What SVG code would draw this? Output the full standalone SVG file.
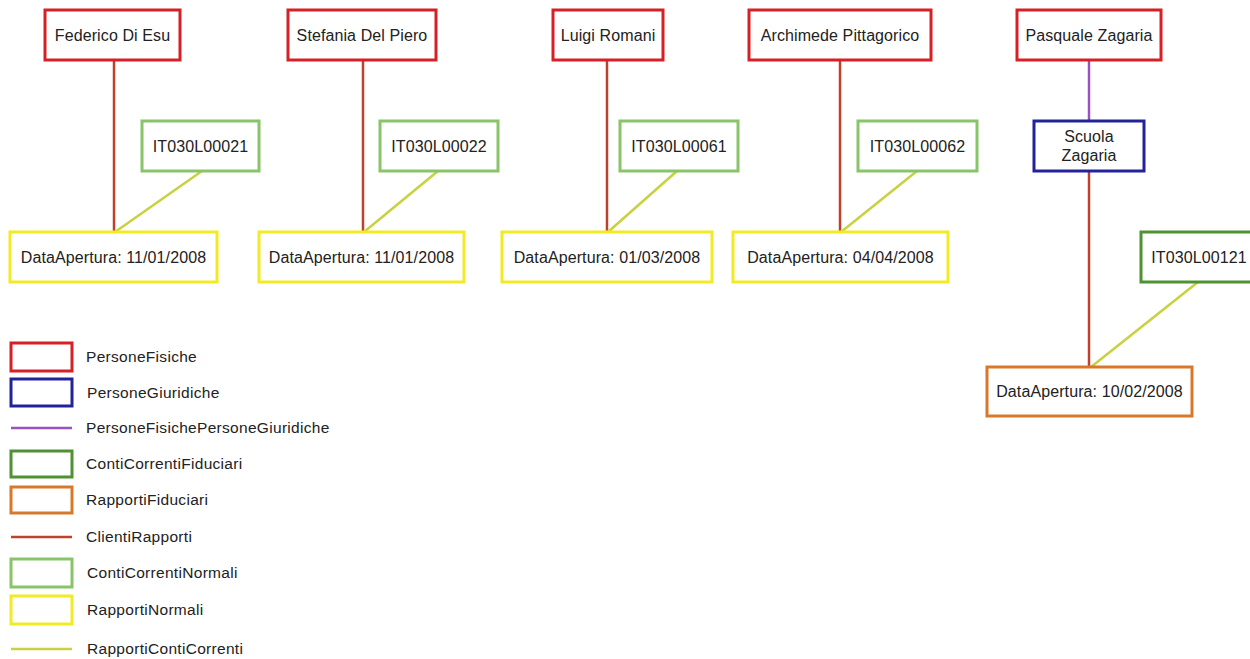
<svg xmlns="http://www.w3.org/2000/svg" width="1250" height="659" viewBox="0 0 1250 659">
<style>
text{font-family:"Liberation Sans",Arial,sans-serif;font-size:16px;letter-spacing:0.1px;fill:#222;}
.c{text-anchor:middle;}
.box{fill:#fff;stroke-width:3;}
.pf{stroke:#d42026;}
.pg{stroke:#22229a;}
.ccf{stroke:#4e9234;}
.rf{stroke:#d8782a;}
.ccn{stroke:#88c468;}
.rn{stroke:#f2ea22;}
.l{fill:none;stroke-width:2.5;}
.pfpg{stroke:#9a52c0;}
.cr{stroke:#c0402e;}
.rcc{stroke:#c8d240;}
.lt{font-size:15.5px;letter-spacing:0.3px;}
</style>
<rect width="1250" height="659" fill="#fff"/>
<g id="connectors">
<line class="l cr" x1="114" y1="60" x2="114" y2="232"/>
<line class="l rcc" x1="202" y1="171" x2="115" y2="232"/>
<line class="l cr" x1="363" y1="60" x2="363" y2="232"/>
<line class="l rcc" x1="438" y1="171" x2="364" y2="232"/>
<line class="l cr" x1="607" y1="60" x2="607" y2="232"/>
<line class="l rcc" x1="677" y1="171" x2="608" y2="232"/>
<line class="l cr" x1="840" y1="60" x2="840" y2="232"/>
<line class="l rcc" x1="917" y1="171" x2="841" y2="232"/>
<line class="l pfpg" x1="1089" y1="60" x2="1089" y2="121"/>
<line class="l cr" x1="1089" y1="171" x2="1089" y2="367"/>
<line class="l rcc" x1="1198" y1="282" x2="1091" y2="367"/>
</g>
<g id="n-federico"><rect class="box pf" x="45" y="10" width="135" height="50"/><text class="c" x="112.5" y="41">Federico Di Esu</text></g>
<g id="n-stefania"><rect class="box pf" x="288" y="10" width="148" height="50"/><text class="c" x="362" y="41">Stefania Del Piero</text></g>
<g id="n-luigi"><rect class="box pf" x="553" y="10" width="110" height="50"/><text class="c" x="608" y="41">Luigi Romani</text></g>
<g id="n-archimede"><rect class="box pf" x="749" y="10" width="182" height="50"/><text class="c" x="840" y="41">Archimede Pittagorico</text></g>
<g id="n-pasquale"><rect class="box pf" x="1017" y="10" width="144" height="50"/><text class="c" x="1089" y="41">Pasquale Zagaria</text></g>
<g id="n-it21"><rect class="box ccn" x="142" y="121" width="117" height="50"/><text class="c" x="200.5" y="152">IT030L00021</text></g>
<g id="n-it22"><rect class="box ccn" x="380" y="121" width="118" height="50"/><text class="c" x="439" y="152">IT030L00022</text></g>
<g id="n-it61"><rect class="box ccn" x="620" y="121" width="118" height="50"/><text class="c" x="679" y="152">IT030L00061</text></g>
<g id="n-it62"><rect class="box ccn" x="858" y="121" width="119" height="50"/><text class="c" x="917.5" y="152">IT030L00062</text></g>
<g id="n-scuola"><rect class="box pg" x="1034" y="121" width="110" height="50"/><text class="c" x="1089" y="142">Scuola</text><text class="c" x="1089" y="161">Zagaria</text></g>
<g id="n-it121"><rect class="box ccf" x="1141" y="232" width="116" height="50"/><text class="c" x="1199" y="263">IT030L00121</text></g>
<g id="n-d1"><rect class="box rn" x="10" y="232" width="207" height="50"/><text class="c" x="113.5" y="263">DataApertura: 11/01/2008</text></g>
<g id="n-d2"><rect class="box rn" x="259" y="232" width="205" height="50"/><text class="c" x="361.5" y="263">DataApertura: 11/01/2008</text></g>
<g id="n-d3"><rect class="box rn" x="502" y="232" width="210" height="50"/><text class="c" x="607" y="263">DataApertura: 01/03/2008</text></g>
<g id="n-d4"><rect class="box rn" x="733" y="232" width="215" height="50"/><text class="c" x="840.5" y="263">DataApertura: 04/04/2008</text></g>
<g id="n-d5"><rect class="box rf" x="987" y="367" width="205" height="49"/><text class="c" x="1089.5" y="397">DataApertura: 10/02/2008</text></g>
<g id="legend">
<rect class="box pf" x="11" y="343" width="61" height="28"/><text class="lt" x="86" y="362">PersoneFisiche</text>
<rect class="box pg" x="11" y="379" width="61" height="27"/><text class="lt" x="87" y="398">PersoneGiuridiche</text>
<line class="l pfpg" x1="11" y1="428" x2="72" y2="428"/><text class="lt" x="86" y="433">PersoneFisichePersoneGiuridiche</text>
<rect class="box ccf" x="11" y="451" width="61" height="26"/><text class="lt" x="86" y="469">ContiCorrentiFiduciari</text>
<rect class="box rf" x="11" y="487" width="61" height="26"/><text class="lt" x="86" y="505">RapportiFiduciari</text>
<line class="l cr" x1="11" y1="537" x2="72" y2="537"/><text class="lt" x="86" y="542">ClientiRapporti</text>
<rect class="box ccn" x="11" y="559" width="61" height="28"/><text class="lt" x="87" y="578">ContiCorrentiNormali</text>
<rect class="box rn" x="11" y="596" width="61" height="28"/><text class="lt" x="87" y="615">RapportiNormali</text>
<line class="l rcc" x1="11" y1="649" x2="72" y2="649"/><text class="lt" x="87" y="654">RapportiContiCorrenti</text>
</g>
</svg>
